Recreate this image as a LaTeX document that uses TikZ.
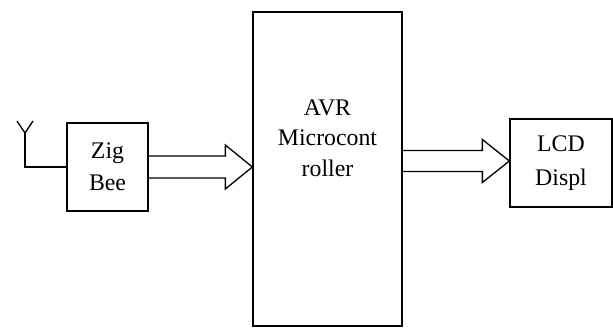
\documentclass[tikz,border=0pt]{standalone}
\usepackage{fontspec}
\setmainfont{Liberation Serif}
\usetikzlibrary{calc,positioning}
\tikzset{
  blockbox/.style={
    rectangle, draw=black, line width=1.3pt,
    minimum width=#1, inner sep=0pt,
    font=\fontsize{23.8}{32}\selectfont, align=center
  },
  blockbox/.default=81pt,
  blocktext/.style={
    font=\fontsize{23.8}{30.5}\selectfont, align=center, inner sep=0pt
  },
  fatarrow/.style={
    draw=black, line width=1.3pt, line join=miter
  },
  antline/.style={
    draw=black, line width=1.3pt
  },
}
\begin{document}
\begin{tikzpicture}[x=1pt,y=-1pt]
    \useasboundingbox (0,0) rectangle (613,327);
    \node[blockbox=81pt, minimum height=88pt] (zigbee) at (107.5,167) {Zig\\Bee};
    \node[blockbox=149pt, minimum height=314pt] (avr) at (327.5,169) {};
    \node[blocktext] (avrtext) at (327.5,138) {AVR\\Microcont\\roller};
    \node[blockbox=102pt, minimum height=88pt, font=\fontsize{23.8}{34.5}\selectfont] (lcd) at (561,163) {LCD\\Displ};
    \coordinate (ant) at (25,133);
    \coordinate (tipa) at (avr.west |- zigbee.east);
    \coordinate (tipb) at ($(lcd.west)+(0,-2)$);
    \draw[antline] (zigbee.west) -| (ant);
    \draw[antline] ($(ant)+(-8,-12)$) -- (ant) -- ++(8,-12);
    \draw[fatarrow] ($(zigbee.east)+(0,-11)$) -| ($(tipa)+(-27,-22)$)
        -- (tipa) -- ++(-27,22) |- ($(zigbee.east)+(0,11)$);
    \draw[fatarrow] ($(avr.east |- tipb)+(0,-10.5)$) -| ($(tipb)+(-27,-21.5)$)
        -- (tipb) -- ++(-27,21.5) |- ($(avr.east |- tipb)+(0,10.5)$);
\end{tikzpicture}
\end{document}
